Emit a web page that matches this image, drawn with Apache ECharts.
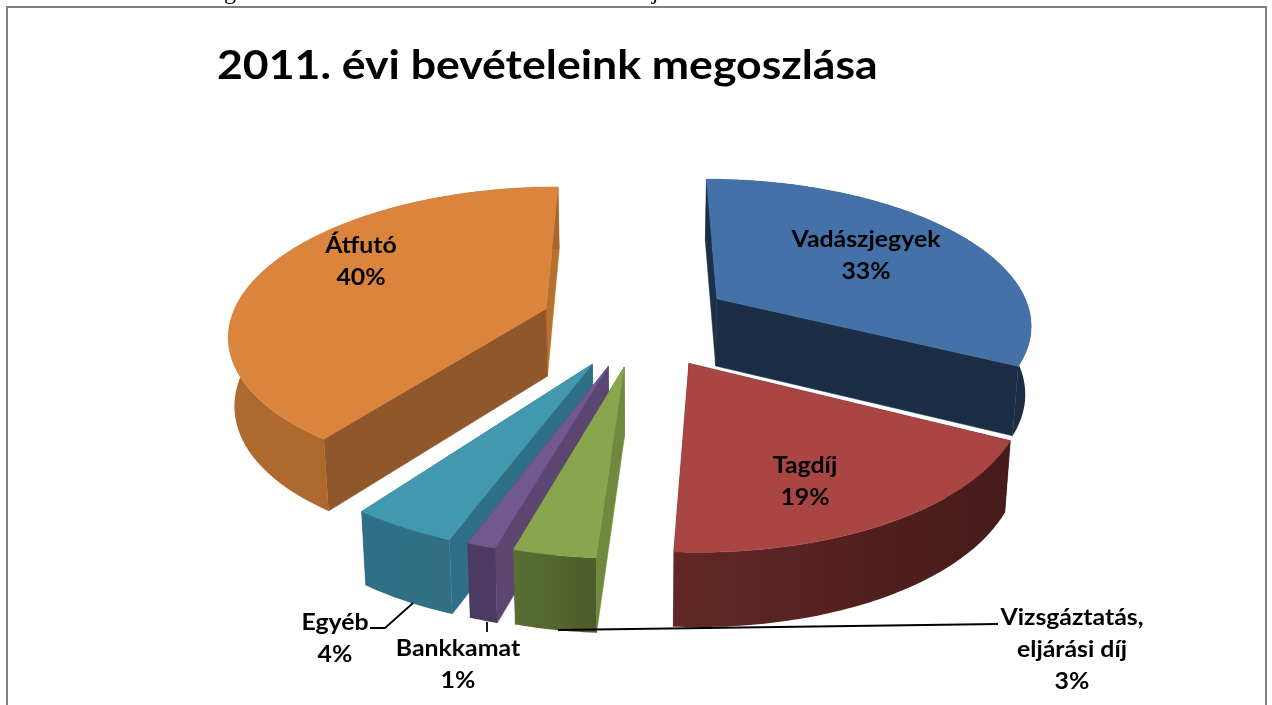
<!DOCTYPE html>
<html>
<head>
	<meta charset="utf-8">
	<script src="https://cdn.jsdelivr.net/npm/echarts@6/dist/echarts.min.js"></script>
	<style>
		html, body { margin: 0; padding: 0; background: #fff; overflow: hidden; }
		#main { width: 1272px; height: 705px; }
	</style>
</head>
<body>
	<div id="main"></div>
	<script>
		// shares, clockwise from the top; the labels show them rounded
		const titleText = '2011. évi bevételeink megoszlása'
		const names = ['Vadászjegyek', 'Tagdíj', 'Vizsgáztatás,\neljárási díj', 'Bankkamat', 'Egyéb', 'Átfutó']
		const shares = [32.5, 18.5, 3.4, 1.2, 4.4, 40]

		// styles, same order
		const topColors = ['#4472a8', '#a94543', '#89a54e', '#71588f', '#4198af', '#db843d']
		const sideColors = [
			['#1b2e46', '#1b2e46'],
			['#622725', '#451b19'],
			['#5a6e33', '#4d5c2b'],
			['#4d3a63', '#4d3a63'],
			['#2f7086', '#326f84'],
			['#b06a30', '#a8652d'],
		]
		const startWallColors = ['#1c3049', '#451b19', '#70893e', '#5b4670', '#2f7086', '#90572a']
		const endWallColors = ['#1b2e46', '#5a2423', '#4d5c2b', '#4d3a63', '#2f7086', '#b8702f']
		const labelCenters = [[866, 256], [805, 482], [1072, 650], [458, 665], [335, 639], [361, 262]]
		const sliceNudges = [[1, -2], [3, 1], [4, -1], [2, 0], [2, 1], [-2, -1]]
		const leaderLines = [
			[[413, 603], [385, 628], [370, 628]],
			[[487, 622], [487, 632]],
			[[558, 630], [998, 624]],
		]
		// bottoms of the caption letters cut off above the frame
		const captionScraps = [['g', 230], ['j', 655]]

		// view of the tilted disc
		const center = [637, 323]
		const radiusX = 316
		const radiusY = 145
		const perspective = 0.158
		const explode = 0.3
		const depth = 68
		const startAngle = 90
		const labelFont = { fontFamily: 'Lato', fontWeight: 'bold', fontSize: 23, lineHeight: 32 }

		const starts = shares.map((_, i) => shares.slice(0, i).reduce((a, b) => a + b, 0))

		function project(u, v) {
			const w = 1 - perspective * v
			return [center[0] + radiusX * u / w, center[1] + radiusY * v / w]
		}

		function lower(pt, v) {
			const d = depth * (1 + 0.08 * v)
			return [center[0] + (pt[0] - center[0]) * 0.985, pt[1] + d]
		}

		function renderSlice(params, api) {
			const i = api.value(0)
			const start = api.value(1)
			const end = api.value(2)
			const mid = (start + end) / 2
			const nudge = sliceNudges[i]
			// unit disc coordinates, from the polar axes
			const disc = (r, val) => {
				const p = api.coord([r, val])
				return [(p[0] - center[0]) / radiusX, (p[1] - center[1]) / radiusX]
			}
			const off = disc(explode, mid)
			const move = (pt) => [pt[0] + nudge[0], pt[1] + nudge[1]]
			const top = (d) => move(project(d[0] + off[0], d[1] + off[1]))
			const bottom = (d) => move(lower(project(d[0] + off[0], d[1] + off[1]), d[1] + off[1]))

			const apex = [0, 0]
			const rim = []
			for (let a = start; a < end; a += 0.25) rim.push(disc(1, a))
			rim.push(disc(1, end))

			const wall = (d, color) => ({
				type: 'polygon',
				shape: { points: [top(apex), top(d), bottom(d), bottom(apex)] },
				style: { fill: color, stroke: color, lineWidth: 0.5 },
			})
			const startWall = wall(rim[0], startWallColors[i])
			const endWall = wall(rim[rim.length - 1], endWallColors[i])
			const walls = mid / 100 > 0.5 ? [endWall, startWall] : [startWall, endWall]

			const outer = {
				type: 'polygon',
				shape: { points: rim.map(top).concat(rim.map(bottom).reverse()) },
				style: {
					fill: {
						type: 'linear',
						x: 0,
						y: 0,
						x2: 1,
						y2: 0,
						colorStops: [
							{ offset: 0, color: sideColors[i][0] },
							{ offset: 1, color: sideColors[i][1] },
						],
					},
				},
			}
			const face = {
				type: 'polygon',
				shape: { points: [top(apex)].concat(rim.map(top)) },
				style: { fill: topColors[i], stroke: topColors[i], lineWidth: 0.5 },
			}
			return { type: 'group', children: walls.concat([outer, face]) }
		}

		function renderLabel(params, api) {
			const i = api.value(0)
			return {
				type: 'text',
				x: labelCenters[i][0],
				y: labelCenters[i][1],
				scaleX: 1.08,
				style: Object.assign({
					x: 0,
					y: 0,
					text: `${names[i]}\n${Math.round(shares[i])}%`,
					fill: '#000',
					align: 'center',
					verticalAlign: 'middle',
				}, labelFont),
			}
		}

		// back slices first so the nearer ones sit on top of their walls
		const sliceData = shares.map((v, i) => [i, starts[i], starts[i] + v]).reverse()

		const chart = echarts.init(document.getElementById('main'), null, { renderer: 'canvas' })
		chart.setOption({
			animation: false,
			backgroundColor: '#fff',
			polar: { center: center, radius: radiusX },
			angleAxis: { type: 'value', min: 0, max: 100, startAngle, clockwise: true, show: false },
			radiusAxis: { type: 'value', min: 0, max: 1, show: false },
			graphic: [
				{
					type: 'rect',
					shape: { x: 7, y: 7, width: 1259, height: 800 },
					style: { fill: 'none', stroke: '#808080', lineWidth: 2 },
					silent: true,
				},
				{
					type: 'text',
					x: 217,
					y: 66,
					scaleX: 1.087,
					style: {
						text: titleText,
						x: 0,
						y: 0,
						fill: '#000',
						verticalAlign: 'middle',
						fontFamily: 'Lato',
						fontWeight: 'bold',
						fontSize: 41,
					},
					silent: true,
				},
			].concat(captionScraps.map(([text, x]) => ({
				type: 'text',
				x,
				y: 5,
				style: {
					text,
					x: 0,
					y: 0,
					fill: '#000',
					align: 'center',
					verticalAlign: 'bottom',
					fontFamily: 'Liberation Serif',
					fontSize: 24,
				},
				silent: true,
			}))).concat(leaderLines.map(points => ({
				type: 'polyline',
				shape: { points },
				style: { fill: 'none', stroke: '#000', lineWidth: 1.8 },
				z: 10,
				silent: true,
			}))),
			series: [
				{
					type: 'custom',
					coordinateSystem: 'polar',
					renderItem: renderSlice,
					data: sliceData,
					silent: true,
					clip: false,
				},
				{
					type: 'custom',
					coordinateSystem: 'polar',
					renderItem: renderLabel,
					data: sliceData,
					silent: true,
					clip: false,
					z: 20,
				},
			],
		})
	</script>
</body>
</html>
